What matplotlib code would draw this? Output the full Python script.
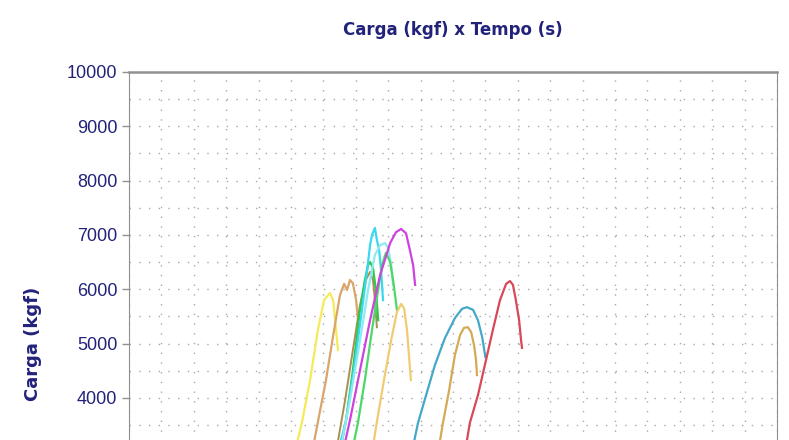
import matplotlib.pyplot as plt
from matplotlib.ticker import FixedLocator, MultipleLocator

plt.rcParams["font.family"] = ["Liberation Sans", "DejaVu Sans"]

# each test: time (s) and load (kgf)
t_yellow = [5.12, 5.34, 5.59, 5.83, 6.02, 6.20, 6.30, 6.39, 6.45]
f_yellow = [3000, 3555, 4330, 5250, 5800, 5930, 5800, 5250, 4880]

t_tan1 = [5.65, 5.83, 6.08, 6.33, 6.51, 6.64, 6.73, 6.82, 6.91, 7.01, 7.07]
f_tan1 = [3000, 3555, 4330, 5250, 5890, 6100, 5985, 6170, 6110, 5800, 5430]

t_olive = [6.39, 6.67, 6.91, 7.13, 7.31, 7.44, 7.53, 7.59, 7.65]
f_olive = [3000, 3960, 4880, 5710, 6170, 6320, 6170, 5800, 5300]

t_green2 = [6.51, 6.70, 6.91, 7.13, 7.28, 7.38, 7.44, 7.53, 7.62, 7.69]
f_green2 = [3000, 3590, 4510, 5620, 6170, 6450, 6500, 6390, 5990, 5430]

t_cyan = [6.45, 6.70, 6.94, 7.19, 7.35, 7.44, 7.50, 7.59, 7.65, 7.72, 7.78, 7.84]
f_cyan = [3000, 3590, 4510, 5620, 6350, 6810, 7000, 7130, 6910, 6720, 6350, 5800]

t_cyan2 = [6.51, 6.82, 7.13, 7.38, 7.59, 7.75, 7.90, 8.00, 8.09, 8.15]
f_cyan2 = [3000, 3960, 5060, 5990, 6630, 6810, 6850, 6760, 6450, 6080]

t_green1 = [6.88, 7.07, 7.28, 7.50, 7.69, 7.81, 7.93, 8.06, 8.15, 8.21, 8.27]
f_green1 = [3000, 3555, 4330, 5250, 5990, 6450, 6670, 6500, 6170, 5900, 5620]

t_magenta = [6.60, 6.82, 7.13, 7.44, 7.75, 8.06, 8.24, 8.40, 8.55, 8.67, 8.77, 8.83]
f_magenta = [3000, 3590, 4510, 5430, 6260, 6850, 7050, 7110, 7030, 6720, 6440, 6080]

t_gold = [7.50, 7.65, 7.87, 8.09, 8.27, 8.40, 8.49, 8.58, 8.64, 8.70]
f_gold = [3000, 3555, 4330, 5060, 5580, 5730, 5650, 5250, 4790, 4330]

t_teal = [8.73, 8.92, 9.17, 9.44, 9.75, 10.06, 10.28, 10.43, 10.62, 10.77, 10.90, 11.00]
f_teal = [3000, 3540, 4050, 4600, 5100, 5470, 5640, 5670, 5620, 5430, 5120, 4750]

t_tan2 = [9.54, 9.69, 9.88, 10.06, 10.22, 10.34, 10.46, 10.56, 10.65, 10.71, 10.74]
f_tan2 = [3000, 3540, 4140, 4790, 5160, 5290, 5300, 5210, 4970, 4700, 4420]

t_red = [10.37, 10.52, 10.77, 11.02, 11.23, 11.45, 11.64, 11.76, 11.85, 11.94, 12.04, 12.10, 12.13]
f_red = [3000, 3540, 4050, 4700, 5250, 5800, 6100, 6150, 6080, 5800, 5430, 5060, 4920]

# labelled ticks that fall inside the cropped picture
y_ticks = [4000, 5000, 6000, 7000, 8000, 9000, 10000]

navy = "#22227a"

fig = plt.figure(figsize=(7.89, 4.40), dpi=100)
# the axes run below the bottom edge: the reference is cropped there
ax = fig.add_axes([0.1635, -0.398, 0.8213, 1.2344])

ax.plot(t_yellow, f_yellow, color="#f4ea5a", lw=1.6)
ax.plot(t_tan1, f_tan1, color="#d9a56a", lw=1.6)
ax.plot(t_olive, f_olive, color="#a89050", lw=1.4)
ax.plot(t_green2, f_green2, color="#2ec84e", lw=1.6)
ax.plot(t_cyan, f_cyan, color="#3ad8ee", lw=1.6)
ax.plot(t_cyan2, f_cyan2, color="#8eeaf2", lw=1.6)
ax.plot(t_green1, f_green1, color="#4cd868", lw=1.6)
ax.plot(t_magenta, f_magenta, color="#cc44dd", lw=1.6)
ax.plot(t_gold, f_gold, color="#f0cc70", lw=1.6)
ax.plot(t_teal, f_teal, color="#44a8c8", lw=1.6)
ax.plot(t_tan2, f_tan2, color="#d4aa55", lw=1.6)
ax.plot(t_red, f_red, color="#d84858", lw=1.6)

ax.set_xlim(0, 20)
ax.set_ylim(0, 10000)
ax.yaxis.set_major_locator(FixedLocator(y_ticks))
ax.yaxis.set_minor_locator(MultipleLocator(500))
ax.xaxis.set_major_locator(MultipleLocator(1))
ax.grid(which="both", color="#a8a8a8", linestyle=(0, (1, 6)), linewidth=1)
ax.set_axisbelow(True)

ax.tick_params(axis="y", which="major", colors="#909090", labelcolor=navy,
               labelsize=13, length=5, width=1)
ax.tick_params(axis="y", which="minor", length=0)
ax.tick_params(axis="x", labelbottom=False, length=0)
for s in ax.spines.values():
    s.set_color("#909090")
ax.spines["top"].set_linewidth(1.8)

ax.set_ylabel("Carga (kgf)", color=navy, fontsize=13, fontweight="bold",
              family=["DejaVu Sans"])
ax.yaxis.set_label_coords(-0.134, 0.5)
fig.text(0.574, 0.932, "Carga (kgf) x Tempo (s)", color=navy, fontsize=12,
         fontweight="bold", family=["DejaVu Sans"], ha="center", va="center")

fig.savefig("out.png", dpi=100)
